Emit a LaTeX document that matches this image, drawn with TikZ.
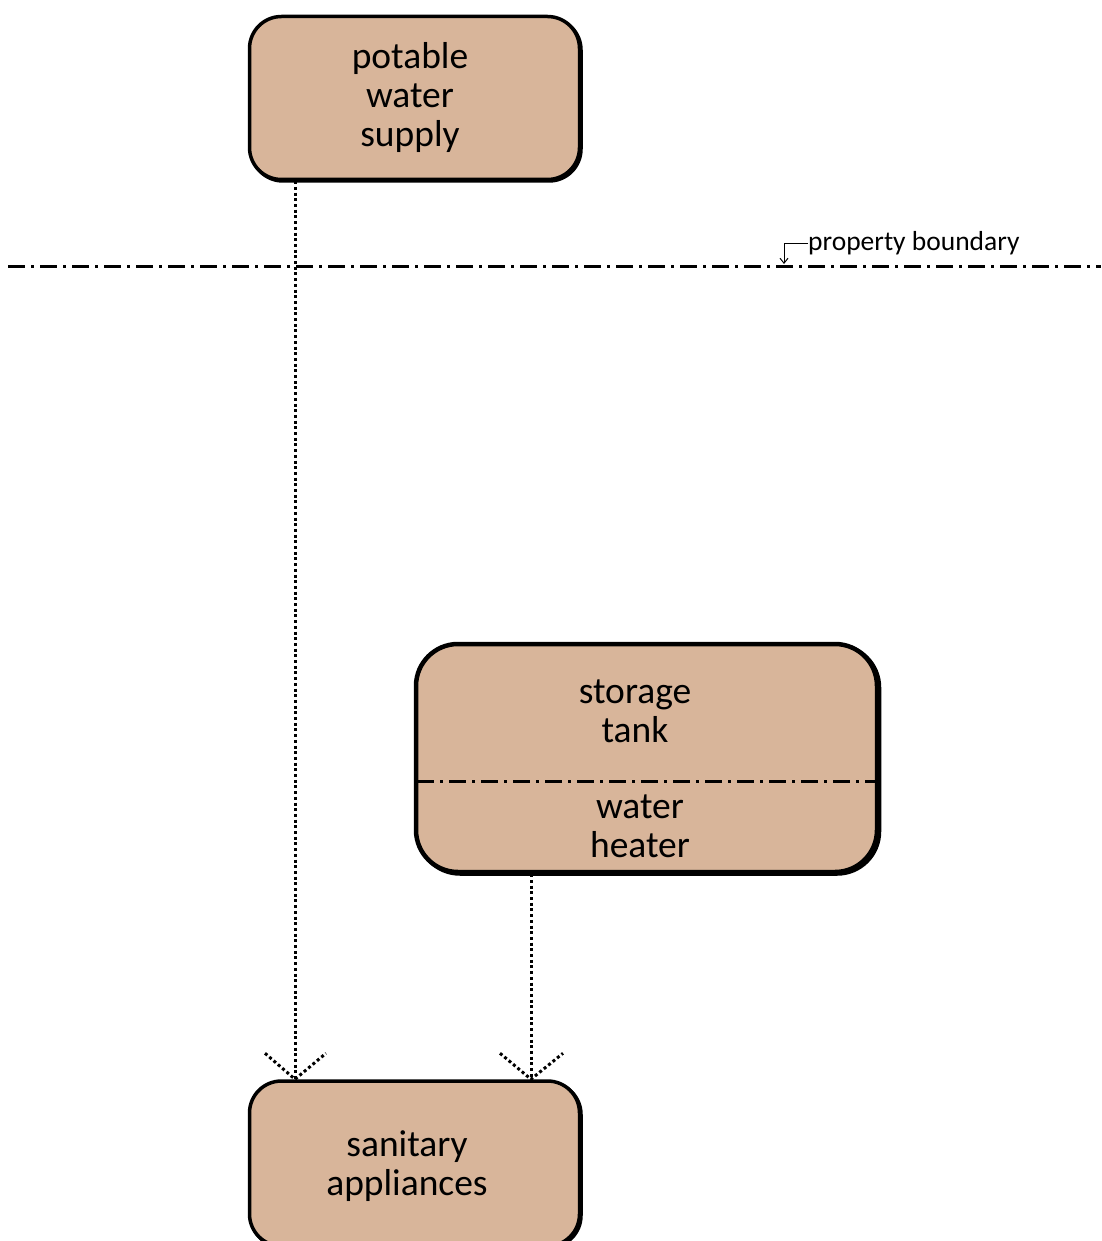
\documentclass[tikz,border=0pt]{standalone}
\usepackage{fontspec}
\setmainfont{Carlito}
\usetikzlibrary{shadows,arrows.meta,calc}
\definecolor{tanfill}{HTML}{D8B59A}
\begin{document}
\begin{tikzpicture}[x=1pt,y=-1pt,
  box/.style={draw=black, fill=tanfill, line width=3.5pt, rounded corners=32pt,
    drop shadow={shadow xshift=1.5pt, shadow yshift=-1.5pt, fill=black, draw=black, line width=3.5pt, opacity=1},
    minimum width=330pt, minimum height=163pt, inner sep=0pt},
  bigbox/.style={draw=black, fill=tanfill, line width=4.5pt, rounded corners=42pt,
    drop shadow={shadow xshift=2pt, shadow yshift=-1.5pt, fill=black, draw=black, line width=4.5pt, opacity=1},
    minimum width=461pt, minimum height=228pt, inner sep=0pt},
  lbl/.style={font=\fontsize{37.5}{39}\selectfont, align=center, inner sep=0pt},
  dotline/.style={line width=3pt, dash pattern=on 3pt off 2.7pt},
  dashdot/.style={line width=3pt, dash pattern=on 17pt off 6pt on 3pt off 6pt}]
\useasboundingbox (0,0) rectangle (1101,1241);

% property boundary
\draw[dashdot] (8,266) -- (1101,266);
\node[font=\fontsize{27.5}{33}\selectfont, anchor=base west, inner sep=0pt] (pb) at (808,251) {property boundary};
\coordinate (pbt) at (784,264);
\draw[line width=1pt, -{Straight Barb[length=5pt,width=8pt]}] (pb.west) -| (pbt);

% boxes
\node[box] (pws) at (414.5,98) {};
\node[lbl] (pwsT) at (410,98) {potable\\water\\supply};

\node[bigbox] (st) at (646.5,758) {};
\node[lbl] (stT) at (635,711) {storage\\tank};
\node[lbl] (whT) at (640,826) {water\\heater};
\draw[dashdot] (417,781) -- (875,781);

\node[box, minimum height=165pt] (sa) at (414.5,1163.5) {};
\node[lbl] (saT) at (407,1166) {sanitary\\appliances};

% connectors
\coordinate (t1) at ([xshift=-119.5pt]sa.north);
\draw[dotline] ([xshift=-119.5pt]pws.south) -- (t1);
\draw[dotline] ($(t1)+(-30,-26)$) -- (t1) -- ($(t1)+(31,-26)$);

\coordinate (t2) at ([xshift=116.5pt]sa.north);
\draw[dotline] ([xshift=-115.5pt]st.south) -- (t2);
\draw[dotline] ($(t2)+(-31,-26)$) -- (t2) -- ($(t2)+(32,-26)$);
\end{tikzpicture}
\end{document}
